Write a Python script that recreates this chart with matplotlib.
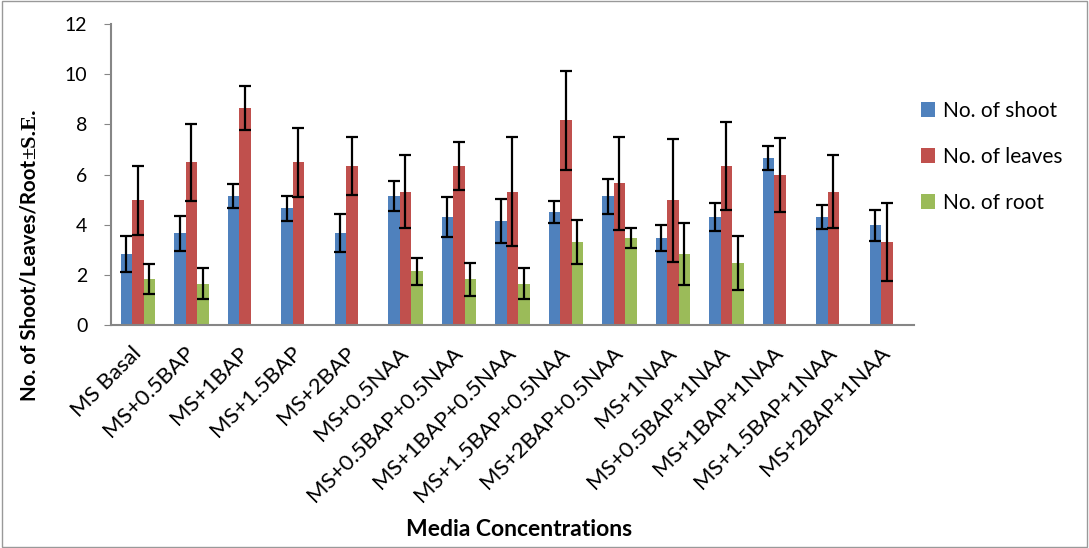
import matplotlib
matplotlib.use('Agg')
import matplotlib.pyplot as plt
import matplotlib.transforms as mtrans
import numpy as np
from matplotlib.patches import Rectangle

media = ["MS Basal", "MS+0.5BAP", "MS+1BAP", "MS+1.5BAP", "MS+2BAP",
         "MS+0.5NAA", "MS+0.5BAP+0.5NAA", "MS+1BAP+0.5NAA", "MS+1.5BAP+0.5NAA",
         "MS+2BAP+0.5NAA", "MS+1NAA", "MS+0.5BAP+1NAA", "MS+1BAP+1NAA",
         "MS+1.5BAP+1NAA", "MS+2BAP+1NAA"]

shoot = [2.83, 3.66, 5.14, 4.65, 3.66, 5.14, 4.31, 4.15, 4.49, 5.14, 3.47, 4.31, 6.66, 4.31, 3.97]
shoot_se = [0.70, 0.70, 0.47, 0.50, 0.75, 0.61, 0.80, 0.87, 0.44, 0.70, 0.50, 0.56, 0.48, 0.49, 0.62]

leaves = [4.97, 6.49, 8.65, 6.49, 6.33, 5.32, 6.33, 5.32, 8.17, 5.65, 4.97, 6.33, 5.98, 5.32, 3.31]
leaves_se = [1.37, 1.53, 0.88, 1.37, 1.15, 1.46, 0.95, 2.17, 1.97, 1.85, 2.46, 1.76, 1.47, 1.46, 1.55]

# nan where no root bar is drawn
root = [1.82, 1.65, np.nan, np.nan, np.nan, 2.15, 1.82, 1.65, 3.31, 3.47, 2.83, 2.47, np.nan, np.nan, np.nan]
root_se = [0.60, 0.62, np.nan, np.nan, np.nan, 0.54, 0.65, 0.62, 0.88, 0.41, 1.25, 1.06, np.nan, np.nan, np.nan]

plt.rcParams['font.family'] = ['Lato', 'DejaVu Sans']

fig = plt.figure(figsize=(10.89, 5.48), dpi=100)
ax = fig.add_axes([0.102, 0.407, 0.737, 0.549])

x = np.arange(len(media))
w = 0.215
err_kw = dict(ecolor='black', elinewidth=1.6, capsize=4.5, capthick=1.6)
ax.bar(x - w, shoot, w, yerr=shoot_se, color='#4F81BD', label='No. of shoot', error_kw=err_kw)
ax.bar(x, leaves, w, yerr=leaves_se, color='#C0504D', label='No. of leaves', error_kw=err_kw)
ax.bar(x + w, root, w, yerr=root_se, color='#9BBB59', label='No. of root', error_kw=err_kw)

ax.set_xlim(-0.5, len(media) - 0.5)
ax.set_ylim(0, 12)
ax.set_yticks(range(0, 13, 2))
ax.tick_params(axis='y', labelsize=14, color='#868686', length=5, pad=12)
ax.tick_params(axis='x', length=0, pad=10)
ax.set_xticks(x)
ax.set_xticklabels(media, rotation=45, ha='right', rotation_mode='anchor', fontsize=16)
shift = mtrans.ScaledTranslation(-7 / 100, -4 / 100, fig.dpi_scale_trans)
for lbl in ax.get_xticklabels():
    lbl.set_transform(lbl.get_transform() + shift)
for s in ['top', 'right']:
    ax.spines[s].set_visible(False)
for s in ['left', 'bottom']:
    ax.spines[s].set_color('#868686')
    ax.spines[s].set_linewidth(1.5)

fig.text(519 / 1089, 1 - 530 / 548, "Media Concentrations", ha='center', va='center',
         fontsize=16.5, fontweight='bold')

# sans part of the y label, the "±S.E." part sits above it in a serif face
ylab = fig.text(30 / 1089, 1 - 280 / 548, "No. of Shoot/Leaves/Root", rotation=90,
                ha='center', va='center', fontsize=14.8, fontweight='bold')
ax.annotate("±S.E.", xy=(0.5, 1), xycoords=ylab, rotation=90, ha='center', va='bottom',
            fontsize=16, fontweight='bold', family='Liberation Serif', annotation_clip=False)

fig.legend(loc='center left', bbox_to_anchor=(902 / 1089, 1 - 157 / 548), frameon=False,
           fontsize=15, handlelength=0.7, handleheight=0.7, handletextpad=0.35,
           labelspacing=1.25)

fig.patches.append(Rectangle((0.002, 0.002), 0.996, 0.996, transform=fig.transFigure,
                             fill=False, edgecolor='#999999', linewidth=1))

plt.savefig('out.png', dpi=100)
